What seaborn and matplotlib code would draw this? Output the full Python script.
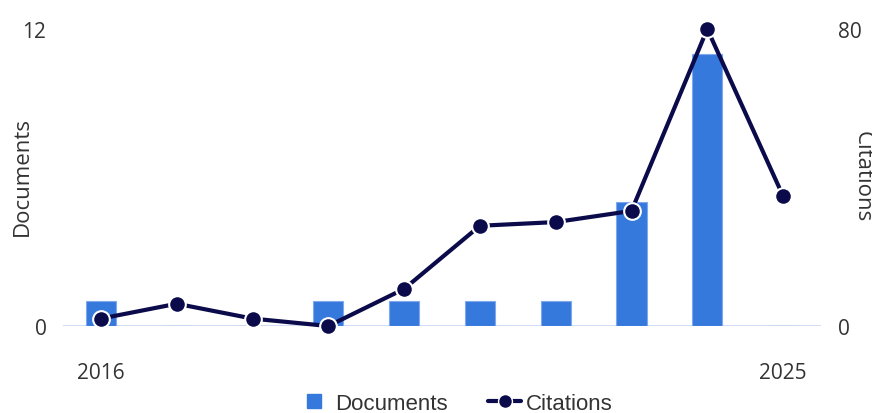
import matplotlib.pyplot as plt
from matplotlib.lines import Line2D
import seaborn as sns
import numpy as np

# Publication data per year
years = ["2016", "2017", "2018", "2019", "2020", "2021", "2022", "2023", "2024", "2025"]
documents = [1, 0, 0, 1, 1, 1, 1, 5, 11, 0]
citations = [2, 6, 2, 0, 10, 27, 28, 31, 80, 35]

bar_color = "#3679DD"
line_color = "#0B0B4B"
text_color = "#333333"

sns.set_style("white")
plt.rcParams['font.family'] = ['Open Sans', 'DejaVu Sans']

fig = plt.figure(figsize=(8.72, 4.14), dpi=100)
ax = fig.add_axes([0.0723, 0.2101, 0.8692, 0.7174])

sns.barplot(x=years, y=documents, ax=ax, color=bar_color, width=0.4,
            edgecolor="#7FA8EE", linewidth=0.8, saturation=1)
ax.axhline(0, color="#C9D5F2", lw=1.2, zorder=0)
ax.set_xlim(-0.5, len(years) - 0.5)
ax.set_ylim(0, 12)
ax.set_yticks([0, 12])
ax.set_xticks([0, len(years) - 1])
ax.set_xticklabels([years[0], years[-1]])
ax.tick_params(axis='x', length=0, pad=26, labelsize=15, labelcolor=text_color)
ax.tick_params(axis='y', length=0, pad=12, labelsize=15, labelcolor=text_color)
ax.set_ylabel("Documents", fontsize=16, color=text_color)
ax.yaxis.set_label_coords(-0.054, 0.508)
ax.yaxis.label.set_va('center')
ax.yaxis.label.set_ha('center')
ax.set_xlabel("")
for s in ax.spines.values():
    s.set_visible(False)

ax2 = ax.twinx()
sns.lineplot(x=np.arange(len(years)), y=citations, ax=ax2, color=line_color,
             lw=3, marker='o', markersize=12, markeredgecolor='white',
             markeredgewidth=1.5, clip_on=False)
ax2.set_ylim(0, 80)
ax2.set_yticks([0, 80])
ax2.tick_params(axis='y', length=0, pad=12, labelsize=15, labelcolor=text_color)
ax2.set_ylabel("Citations", fontsize=16, color=text_color, rotation=270)
ax2.yaxis.set_label_coords(1.054, 0.505)
ax2.yaxis.label.set_va('center')
ax2.yaxis.label.set_ha('center')
for s in ax2.spines.values():
    s.set_visible(False)

handles = [
    Line2D([], [], ls='none', marker='s', markersize=10, color=bar_color),
    Line2D([], [], color=line_color, lw=3, marker='o', markersize=10,
           markeredgecolor='white', markeredgewidth=1),
]
fig.legend(handles, ["Documents", "Citations"], loc='center', bbox_to_anchor=(0.522, 0.024),
           ncol=2, frameon=False, handlelength=1.5, handletextpad=0.2,
           columnspacing=1.8, labelcolor=text_color,
           prop={'family': 'Liberation Sans', 'size': 16})

fig.savefig("out.png", dpi=100)
